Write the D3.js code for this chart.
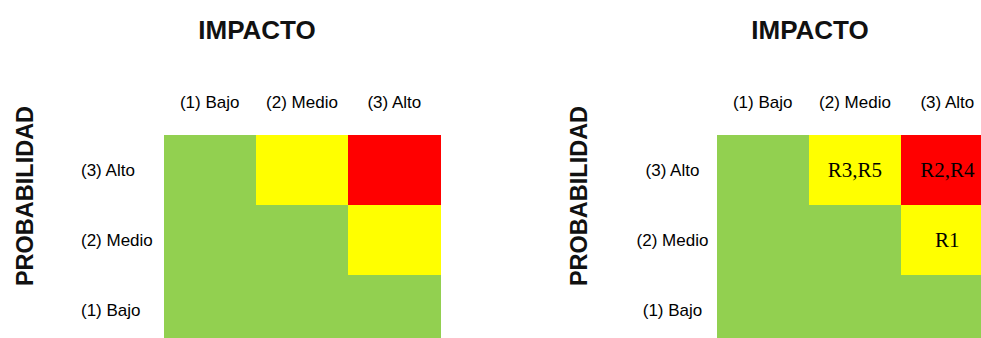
<!DOCTYPE html>
<html>
<head>
<meta charset="utf-8">
<script src="https://cdn.jsdelivr.net/npm/d3@7"></script>
<style>
  html, body { margin: 0; padding: 0; background: #ffffff; }
  svg { display: block; }
</style>
</head>
<body>
<svg id="chart" width="981" height="338"></svg>
<script>
// ---- data ----
const impactLevels = [1, 2, 3];
const impactLabels = ["(1) Bajo", "(2) Medio", "(3) Alto"];
const probLevels = [3, 2, 1];                 // top to bottom
const probLabels = ["(3) Alto", "(2) Medio", "(1) Bajo"];
// severity per cell: rows = probability (3,2,1), cols = impact (1,2,3); 0 low, 1 medium, 2 high
const severityMatrix = [
  [0, 1, 2],
  [0, 0, 1],
  [0, 0, 0]
];
const severityColors = ["#92D050", "#FFFF00", "#FF0000"];
// risks placed on the second matrix
const riskIds = ["R1", "R2", "R3", "R4", "R5"];
const riskProb = [2, 3, 3, 3, 3];
const riskImpact = [3, 3, 2, 3, 2];
const titleX = "IMPACTO";
const titleY = "PROBABILIDAD";

// ---- layout ----
const svg = d3.select("#chart");
const panels = [
  { x0: 163.5, showRisks: false, rowAnchor: "start", rowLabelX: 81, titleYX: 24.5 },
  { x0: 716.5, showRisks: true, rowAnchor: "middle", rowLabelX: 672.5, titleYX: 578.5 }
];
const gridW = 277, gridTop = 135, gridH = 210;

const color = d3.scaleOrdinal().domain([0, 1, 2]).range(severityColors);

// group risks by cell
const riskCells = d3.rollups(
  riskIds.map((id, i) => ({ id, p: riskProb[i], im: riskImpact[i] })),
  v => v.map(d => d.id).sort().join(","),
  d => d.p, d => d.im
);
const riskLookup = new Map();
riskCells.forEach(([p, arr]) => arr.forEach(([im, label]) => riskLookup.set(p + "-" + im, label)));

panels.forEach(panel => {
  const x = d3.scaleBand().domain(impactLevels).range([panel.x0, panel.x0 + gridW]).padding(0);
  const y = d3.scaleBand().domain(probLevels).range([gridTop, gridTop + gridH]).padding(0);
  const g = svg.append("g");

  const cells = [];
  probLevels.forEach((p, ri) => impactLevels.forEach((im, ci) => {
    cells.push({ p, im, sev: severityMatrix[ri][ci] });
  }));

  g.selectAll("rect.cell").data(cells).join("rect")
    .attr("class", "cell")
    .attr("x", d => x(d.im))
    .attr("y", d => y(d.p))
    .attr("width", x.bandwidth())
    .attr("height", y.bandwidth())
    .attr("fill", d => color(d.sev))
    .attr("shape-rendering", "crispEdges");

  // column labels (impact)
  g.selectAll("text.col").data(impactLevels).join("text")
    .attr("class", "col")
    .attr("x", d => x(d) + x.bandwidth() / 2)
    .attr("y", 107.5)
    .attr("text-anchor", "middle")
    .attr("font-family", "Liberation Sans, Arial, sans-serif")
    .attr("font-size", 17)
    .attr("fill", "#000")
    .text((d, i) => impactLabels[i]);

  // row labels (probability)
  g.selectAll("text.row").data(probLevels).join("text")
    .attr("class", "row")
    .attr("x", panel.rowLabelX)
    .attr("y", d => y(d) + y.bandwidth() / 2)
    .attr("dy", "0.36em")
    .attr("text-anchor", panel.rowAnchor)
    .attr("font-family", "Liberation Sans, Arial, sans-serif")
    .attr("font-size", 17)
    .attr("fill", "#000")
    .text((d, i) => probLabels[i]);

  // titles
  g.append("text")
    .attr("x", x(2) + x.bandwidth() / 2 - 45)
    .attr("y", 39)
    .attr("text-anchor", "middle")
    .attr("font-family", "Liberation Sans, Arial, sans-serif")
    .attr("font-weight", "bold")
    .attr("font-size", 26)
    .attr("fill", "#111")
    .text(titleX);

  g.append("text")
    .attr("transform", `translate(${panel.titleYX},${196}) rotate(-90)`)
    .attr("dy", "0.36em")
    .attr("text-anchor", "middle")
    .attr("font-family", "Liberation Sans, Arial, sans-serif")
    .attr("font-weight", "bold")
    .attr("font-size", 23.5)
    .attr("fill", "#111")
    .text(titleY);

  if (panel.showRisks) {
    const labelled = cells.filter(d => riskLookup.has(d.p + "-" + d.im));
    g.selectAll("text.risk").data(labelled).join("text")
      .attr("class", "risk")
      .attr("x", d => x(d.im) + x.bandwidth() / 2)
      .attr("y", d => y(d.p) + y.bandwidth() / 2)
      .attr("dy", "0.33em")
      .attr("text-anchor", "middle")
      .attr("font-family", "Liberation Serif, Times New Roman, serif")
      .attr("font-size", 21)
      .attr("fill", "#000")
      .text(d => riskLookup.get(d.p + "-" + d.im));
  }
});
</script>
</body>
</html>
